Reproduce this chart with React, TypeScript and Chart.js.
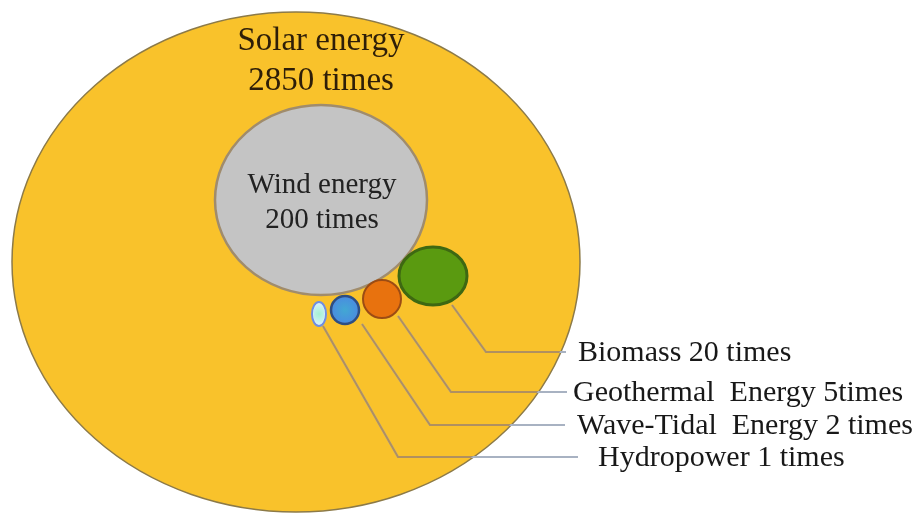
import React, { useEffect, useRef } from "react";
import { Chart, registerables } from "chart.js";

Chart.register(...registerables);

// ---- data ----
const sources = ["Solar energy", "Wind energy", "Biomass", "Geothermal Energy", "Wave-Tidal Energy", "Hydropower"];
const multiples = [2850, 200, 20, 5, 2, 1];
const calloutLabels = ["Biomass 20 times", "Geothermal  Energy 5times", "Wave-Tidal  Energy 2 times", "Hydropower 1 times"];

// ---- layout (axis units, x: 0..915, y: 0..513 top-down) ----
const centerX = [296, 321, 433, 382, 345, 319];
const centerY = [262, 200, 276, 299, 310, 314];
const radiusX = [284, 106, 34, 19, 14, 7];
const radiusY = [250, 95, 29, 19, 14, 12];
const fills = ["#F9C22B", "#C4C4C4", "#5A9A10", "#E8720E", "#4A8CE0", "#DDF2FF"];
const borders = ["#8C7A48", "#A08C6C", "#3E6812", "#9C4C14", "#2E4E82", "#6E8EE2"];
const borderWidths = [1.5, 2.5, 3, 2, 2.5, 2];

const leaderStart = [[452, 305], [398, 316], [362, 324], [323, 326]];
const leaderCorner = [[486, 352], [451, 392], [430, 425], [398, 457]];
const leaderEndX = [566, 567, 565, 578];
const labelX = [578, 573, 577, 598];

const diagramPlugin = {
  id: "diagram",
  afterDatasetsDraw(chart: any) {
    const ctx = chart.ctx as CanvasRenderingContext2D;
    const xs = chart.scales.x;
    const ys = chart.scales.y;
    const meta = chart.getDatasetMeta(0);
    const px = (v: number) => xs.getPixelForValue(v);
    const py = (v: number) => ys.getPixelForValue(v);
    const geo = meta.data.map((el: any, i: number) => ({
      x: el.x,
      y: el.y,
      rx: Math.abs(px(centerX[i] + radiusX[i]) - px(centerX[i])),
      ry: Math.abs(py(centerY[i] + radiusY[i]) - py(centerY[i])),
    }));
    ctx.save();
    geo.forEach((g: any, i: number) => {
      ctx.beginPath();
      ctx.ellipse(g.x, g.y, g.rx, g.ry, 0, 0, Math.PI * 2);
      ctx.fillStyle = fills[i];
      ctx.fill();
      ctx.lineWidth = borderWidths[i];
      ctx.strokeStyle = borders[i];
      ctx.stroke();
    });
    // blue bubble teal centre
    const b = geo[4];
    const grad = ctx.createRadialGradient(b.x, b.y, 0, b.x, b.y, b.rx);
    grad.addColorStop(0, "rgba(60,190,200,0.55)");
    grad.addColorStop(1, "rgba(60,190,200,0)");
    ctx.fillStyle = grad;
    ctx.beginPath();
    ctx.ellipse(b.x, b.y, b.rx - 2, b.ry - 2, 0, 0, Math.PI * 2);
    ctx.fill();
    const l = geo[5];
    const grad2 = ctx.createRadialGradient(l.x, l.y, 0, l.x, l.y, l.ry);
    grad2.addColorStop(0, "rgba(150,240,200,0.8)");
    grad2.addColorStop(1, "rgba(150,240,200,0)");
    ctx.fillStyle = grad2;
    ctx.beginPath();
    ctx.ellipse(l.x, l.y, l.rx - 1.5, l.ry - 1.5, 0, 0, Math.PI * 2);
    ctx.fill();

    // leader lines
    const drawLeaders = (color: string) => {
      ctx.strokeStyle = color;
      ctx.lineWidth = 2;
      leaderStart.forEach((s, i) => {
        ctx.beginPath();
        ctx.moveTo(px(s[0]), py(s[1]));
        ctx.lineTo(px(leaderCorner[i][0]), py(leaderCorner[i][1]));
        ctx.lineTo(px(leaderEndX[i]), py(leaderCorner[i][1]));
        ctx.stroke();
      });
    };
    drawLeaders("#A8B2C2");
    ctx.save();
    const o = geo[0];
    ctx.beginPath();
    ctx.ellipse(o.x, o.y, o.rx - 1, o.ry - 1, 0, 0, Math.PI * 2);
    ctx.clip();
    drawLeaders("#B09060");
    ctx.restore();

    // texts
    ctx.textAlign = "center";
    ctx.textBaseline = "alphabetic";
    ctx.fillStyle = "#2E1E08";
    ctx.font = "33px 'Liberation Serif'";
    ctx.fillText(sources[0], px(321), py(50));
    ctx.fillText(`${multiples[0]} times`, px(321), py(90));
    ctx.fillStyle = "#222222";
    ctx.font = "29px 'Liberation Serif'";
    ctx.fillText(sources[1], px(322), py(193));
    ctx.fillText(`${multiples[1]} times`, px(322), py(228));

    ctx.textAlign = "left";
    ctx.textBaseline = "middle";
    ctx.fillStyle = "#181818";
    ctx.font = "30px 'Liberation Serif'";
    calloutLabels.forEach((t, i) => {
      ctx.fillText(t, px(labelX[i]), py(leaderCorner[i][1] + 1));
    });
    ctx.restore();
  },
};

export default function App() {
  const ref = useRef<HTMLCanvasElement | null>(null);
  useEffect(() => {
    if (!ref.current) return;
    const chart = new Chart(ref.current, {
      type: "bubble",
      data: {
        labels: sources,
        datasets: [
          {
            label: "Energy potential (multiple of hydropower)",
            data: sources.map((_, i) => ({ x: centerX[i], y: centerY[i], r: 0, v: multiples[i] })) as any,
            backgroundColor: "rgba(0,0,0,0)",
            borderWidth: 0,
            hoverRadius: 0,
          },
        ],
      },
      options: {
        animation: false,
        responsive: false,
        layout: { padding: 0 },
        plugins: { legend: { display: false }, tooltip: { enabled: false } },
        events: [],
        scales: {
          x: { type: "linear", min: 0, max: 915, display: false },
          y: { type: "linear", min: 0, max: 513, reverse: true, display: false },
        },
      },
      plugins: [diagramPlugin],
    });
    return () => chart.destroy();
  }, []);
  return (
    <div style={{ position: "fixed", left: 0, top: 0, width: 915, height: 513, background: "#fff" }}>
      <canvas ref={ref} width={915} height={513} style={{ width: 915, height: 513, display: "block" }} />
    </div>
  );
}
